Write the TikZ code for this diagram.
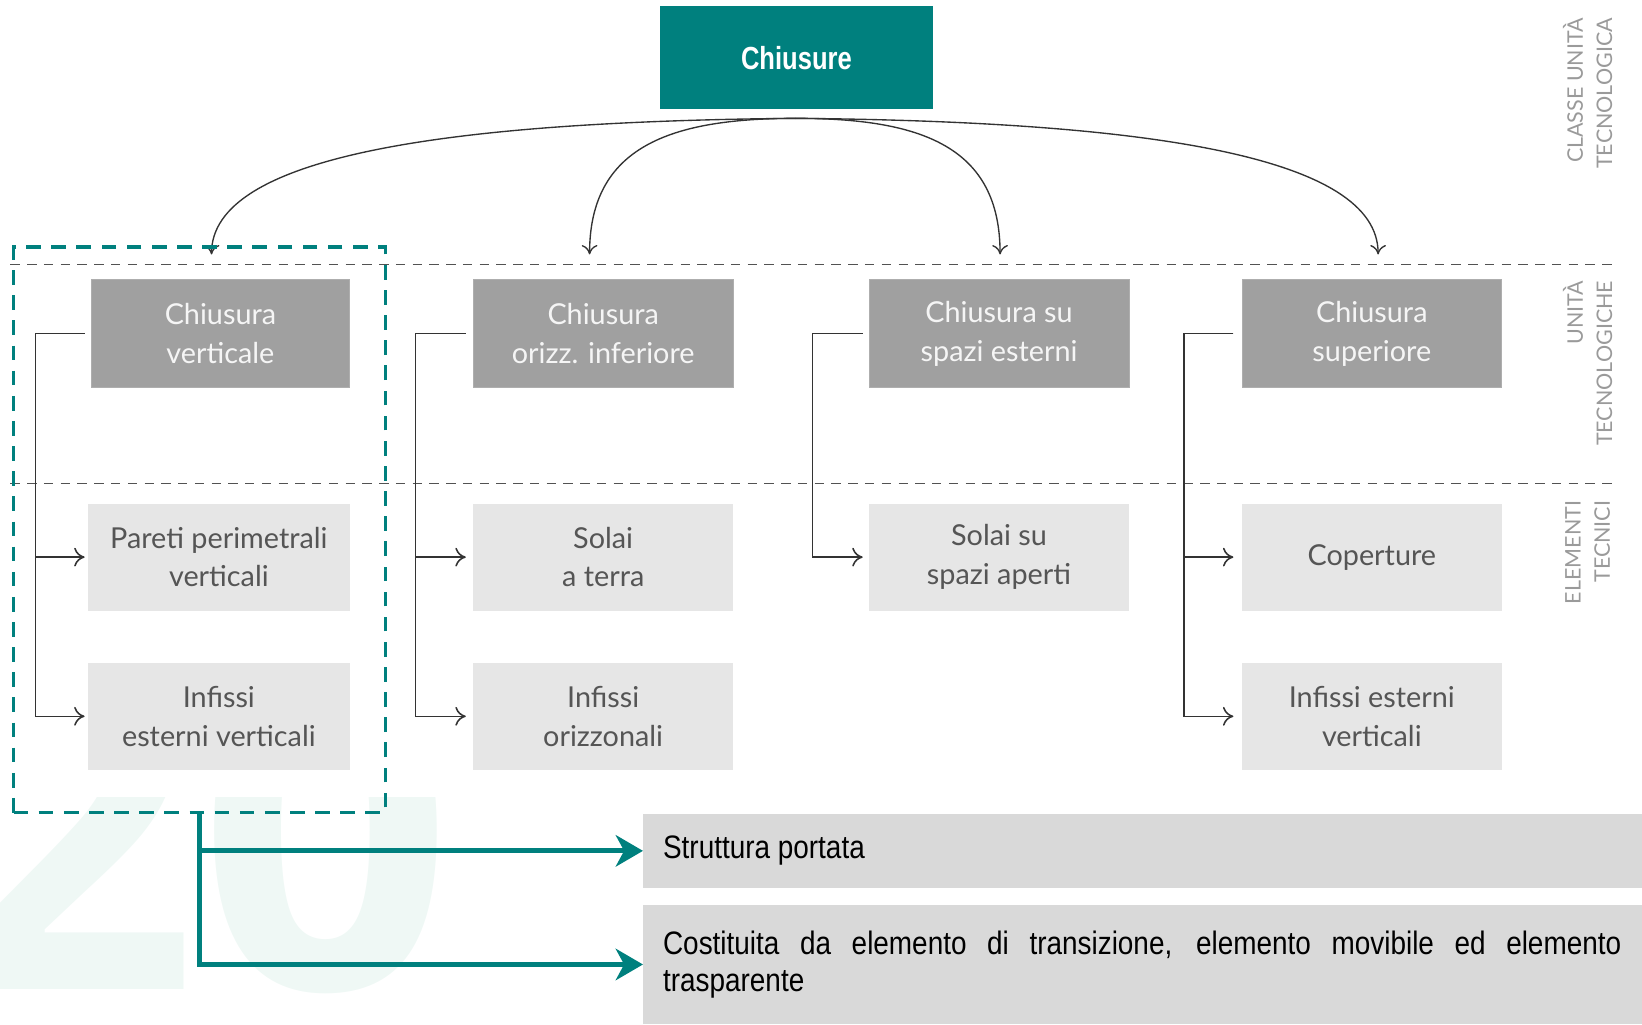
\documentclass[tikz,border=0pt]{standalone}
\usepackage{fontspec}
\setmainfont{Lato}
\newfontfamily\condfont[FakeStretch=0.86]{Liberation Sans}
\newfontfamily\condbold[FakeStretch=0.8]{Liberation Sans Bold}
\newfontfamily\wmfont{Open Sans Bold}
\usetikzlibrary{arrows.meta}
\definecolor{tealc}{HTML}{00807E}
\definecolor{darkbox}{HTML}{A0A0A0}
\definecolor{lightbox}{HTML}{E6E6E6}
\definecolor{notebox}{HTML}{D9D9D9}
\definecolor{boxtext}{HTML}{555555}
\definecolor{labeltext}{HTML}{9A9A9A}
\definecolor{wmcol}{HTML}{EFF8F5}
\definecolor{linecol}{HTML}{333333}
\begin{document}
\begin{tikzpicture}[x=1pt,y=-1pt,
  topbox/.style={fill=tealc, text=white, inner sep=0pt, minimum width=261pt, minimum height=98pt,
    font=\condbold\fontsize{30.5}{36}\selectfont},
  unitbox/.style={fill=darkbox, draw=darkbox!85!white, line width=0.6pt, text=white!96!black, inner sep=0pt,
    minimum width=248pt, minimum height=103pt, align=center,
    font=\fontsize{27.5}{37}\selectfont},
  elembox/.style={fill=lightbox, text=boxtext, inner sep=0pt,
    minimum width=248pt, minimum height=102pt, align=center,
    font=\fontsize{27.5}{37}\selectfont},
  notebx/.style={fill=notebox, inner sep=0pt, minimum width=954pt, anchor=west},
  notetext/.style={text width=915pt, align=justify, inner sep=0pt, anchor=west,
    font=\condfont\fontsize{31}{36}\selectfont},
  sidelabel/.style={rotate=90, anchor=east, align=right, text=labeltext, inner sep=0pt,
    font=\fontsize{20.5}{28}\selectfont},
  sepline/.style={draw=linecol!85!white, line width=0.9pt, dash pattern=on 9pt off 7pt},
  curvearrow/.style={draw=linecol, line width=1.3pt, -{To[length=9pt,width=15pt]}},
  elbow/.style={draw=linecol, line width=1.5pt, -{To[length=10pt,width=18pt]}},
  selbox/.style={draw=tealc, line width=3.2pt, dash pattern=on 14pt off 10pt, inner sep=0pt,
    minimum width=355pt, minimum height=540pt},
  tealarrow/.style={draw=tealc, line width=4.8pt, -{Stealth[length=26pt,width=30pt,inset=8pt]}},
]
\useasboundingbox (0,0) rectangle (1568,978);

% watermark
\begin{scope}
  \clip (0,762) rectangle (600,978);
  \node[anchor=base west, inner sep=0pt, text=wmcol,
        font=\wmfont\fontsize{426}{426}\selectfont] (wm) at (-54,945) {20};
\end{scope}

% separators
\draw[sepline] (10,253) -- (1540,253);
\draw[sepline] (10,462) -- (1540,462);

% side labels
\node[sidelabel] (lab1) at (1516,17) {CLASSE UNITÀ\\TECNOLOGICA};
\node[sidelabel] (lab2) at (1516,268) {UNITÀ\\TECNOLOGICHE};
\node[sidelabel] (lab3) at (1516,478) {ELEMENTI\\TECNICI};

% top
\node[topbox] (top) at (760.5,55) {Chiusure};
\coordinate (hub) at (760,113);
\coordinate (t1) at (202,243);
\coordinate (t2) at (563,243);
\coordinate (t3) at (955,243);
\coordinate (t4) at (1316,243);
\draw[curvearrow] (hub) .. controls (420,116) and (202,150) .. (t1);
\draw[curvearrow] (hub) .. controls (640,113) and (563,140) .. (t2);
\draw[curvearrow] (hub) .. controls (880,113) and (955,140) .. (t3);
\draw[curvearrow] (hub) .. controls (1100,116) and (1316,150) .. (t4);

% unit boxes
\node[unitbox, minimum width=247pt] (u1) at (210.5,318.5) {Chiusura\\verticale};
\node[unitbox] (u2) at (576,318.5) {Chiusura\\orizz. inferiore};
\node[unitbox] (u3) at (954,318.5) {Chiusura su\\spazi esterni};
\node[unitbox] (u4) at (1310,318.5) {Chiusura\\superiore};

% element boxes
\node[elembox, minimum width=250pt] (e11) at (209,532) {Pareti perimetrali\\verticali};
\node[elembox, minimum width=250pt] (e12) at (209,684) {Infissi\\esterni verticali};
\node[elembox] (e21) at (576,532) {Solai\\a terra};
\node[elembox] (e22) at (576,684) {Infissi\\orizzonali};
\node[elembox] (e31) at (954,532) {Solai su\\spazi aperti};
\node[elembox] (e41) at (1310,532) {Coperture};
\node[elembox] (e42) at (1310,684) {Infissi esterni\\verticali};

% elbow connectors
\draw[elbow] ([xshift=-6pt]u1.west) -- ++(-47,0) |- ([xshift=-3pt]e11.west);
\draw[elbow] ([xshift=-6pt]u1.west) -- ++(-47,0) |- ([xshift=-3pt]e12.west);
\draw[elbow] ([xshift=-7pt]u2.west) -- ++(-48,0) |- ([xshift=-7pt]e21.west);
\draw[elbow] ([xshift=-7pt]u2.west) -- ++(-48,0) |- ([xshift=-7pt]e22.west);
\draw[elbow] ([xshift=-6pt]u3.west) -- ++(-48,0) |- ([xshift=-6pt]e31.west);
\draw[elbow] ([xshift=-8pt]u4.west) -- ++(-47,0) |- ([xshift=-8pt]e41.west);
\draw[elbow] ([xshift=-8pt]u4.west) -- ++(-47,0) |- ([xshift=-8pt]e42.west);

% selection box
\node[selbox] (sel) at (190.5,506) {};

% note boxes
\node[notebx, minimum height=71pt] (n1) at (614,812.5) {};
\node[notetext] (n1t) at (633,812.5) {Struttura portata};
\node[notebx, minimum height=114pt] (n2) at (614,921) {};
\node[notetext] (n2t) at (633,921) {Costituita da elemento di transizione, elemento movibile ed elemento\linebreak trasparente};

% teal arrows
\draw[tealarrow] (sel.south) |- (n2.west);
\draw[tealarrow] (sel.south |- n1.west) -- (n1.west);
\end{tikzpicture}
\end{document}
